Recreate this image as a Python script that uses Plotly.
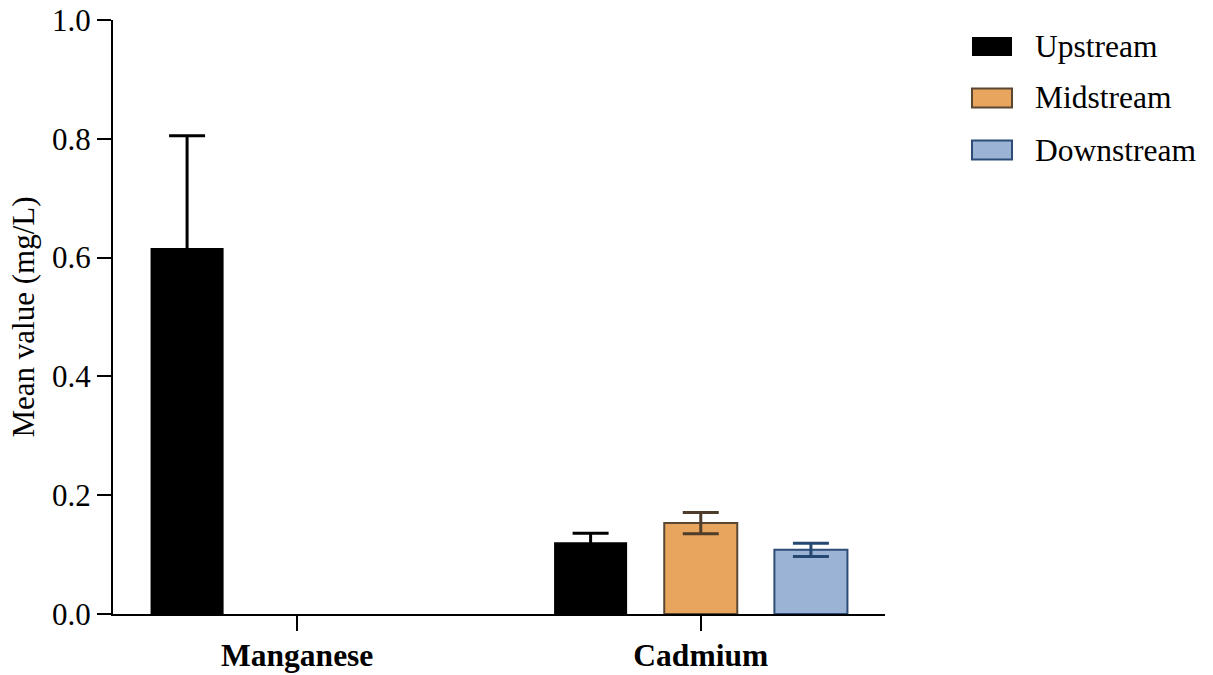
import plotly.graph_objects as go

# Heavy metal concentrations by river section
metals = ["Manganese", "Cadmium"]
sections = ["Upstream", "Midstream", "Downstream"]

upstream_mean = [0.616, 0.121]
upstream_err = [0.189, 0.015]
midstream_mean = [None, 0.153]
midstream_err = [None, 0.018]
downstream_mean = [None, 0.108]
downstream_err = [None, 0.011]

y_ticks = [0.0, 0.2, 0.4, 0.6, 0.8, 1.0]
y_tick_text = ["0.0", "0.2", "0.4", "0.6", "0.8", "1.0"]

FONT = "Times New Roman, Liberation Serif, serif"

fills = ["#000000", "#E8A55E", "#9BB3D4"]
edges = ["#000000", "#5A4733", "#2D4C78"]
err_colors = ["#000000", "#4E3D2B", "#254873"]

means = [upstream_mean, midstream_mean, downstream_mean]
errs = [upstream_err, midstream_err, downstream_err]

fig = go.Figure()
for name, m, e, fc, ec, erc in zip(sections, means, errs, fills, edges, err_colors):
    fig.add_trace(go.Bar(
        name=name,
        x=metals,
        y=m,
        marker=dict(color=fc, line=dict(color=ec, width=2 if fc != "#000000" else 0)),
        error_y=dict(type="data", array=e, visible=True, color=erc, thickness=3, width=18),
        showlegend=False,
    ))

# Plot-area geometry (pixels) used to place the hand-drawn legend
L, R, T, B = 113, 885, 20, 614
W, H = 1213, 675


def px_x(px):
    return (px - L) / (R - L)


def px_y(py):
    return (B - py) / (B - T)


legend_rows = [46.5, 98, 150]
for name, fc, ec, yc in zip(sections, fills, edges, legend_rows):
    fig.add_shape(
        type="rect", xref="paper", yref="paper",
        x0=px_x(972), x1=px_x(1012),
        y0=px_y(yc + 9.5), y1=px_y(yc - 9.5),
        fillcolor=fc, line=dict(color=ec, width=2 if fc != "#000000" else 0),
    )
    fig.add_annotation(
        xref="paper", yref="paper", x=px_x(1033), y=px_y(yc),
        text=name, showarrow=False, xanchor="left", yanchor="middle",
        font=dict(family=FONT, size=31.5, color="#000000"),
    )

fig.update_layout(
    width=W, height=H,
    margin=dict(l=L, r=W - R, t=T, b=H - B, autoexpand=False),
    paper_bgcolor="white", plot_bgcolor="white",
    barmode="group", bargap=0.181, bargroupgap=0.337,
    font=dict(family=FONT, size=31, color="#000000"),
)
fig.update_xaxes(
    type="category",
    range=[-0.4566, 1.4566],
    tickmode="array", tickvals=metals,
    ticktext=["<b>" + m + "</b>" for m in metals],
    ticks="outside", ticklen=15, tickwidth=2, tickcolor="#000000",
    showline=True, linecolor="#000000", linewidth=2,
    showgrid=False, zeroline=False,
    tickfont=dict(family=FONT, size=31.5, color="#000000"),
    ticklabelstandoff=-3,
)
fig.update_yaxes(
    range=[0, 1.0],
    tickmode="array", tickvals=y_ticks, ticktext=y_tick_text,
    ticks="outside", ticklen=14, tickwidth=2, tickcolor="#000000",
    showline=True, linecolor="#000000", linewidth=2,
    showgrid=False, zeroline=False,
    tickfont=dict(family=FONT, size=31, color="#000000"),
    title=dict(text="Mean value (mg/L)", font=dict(family=FONT, size=31), standoff=8),
)

fig.write_html("out.html")
